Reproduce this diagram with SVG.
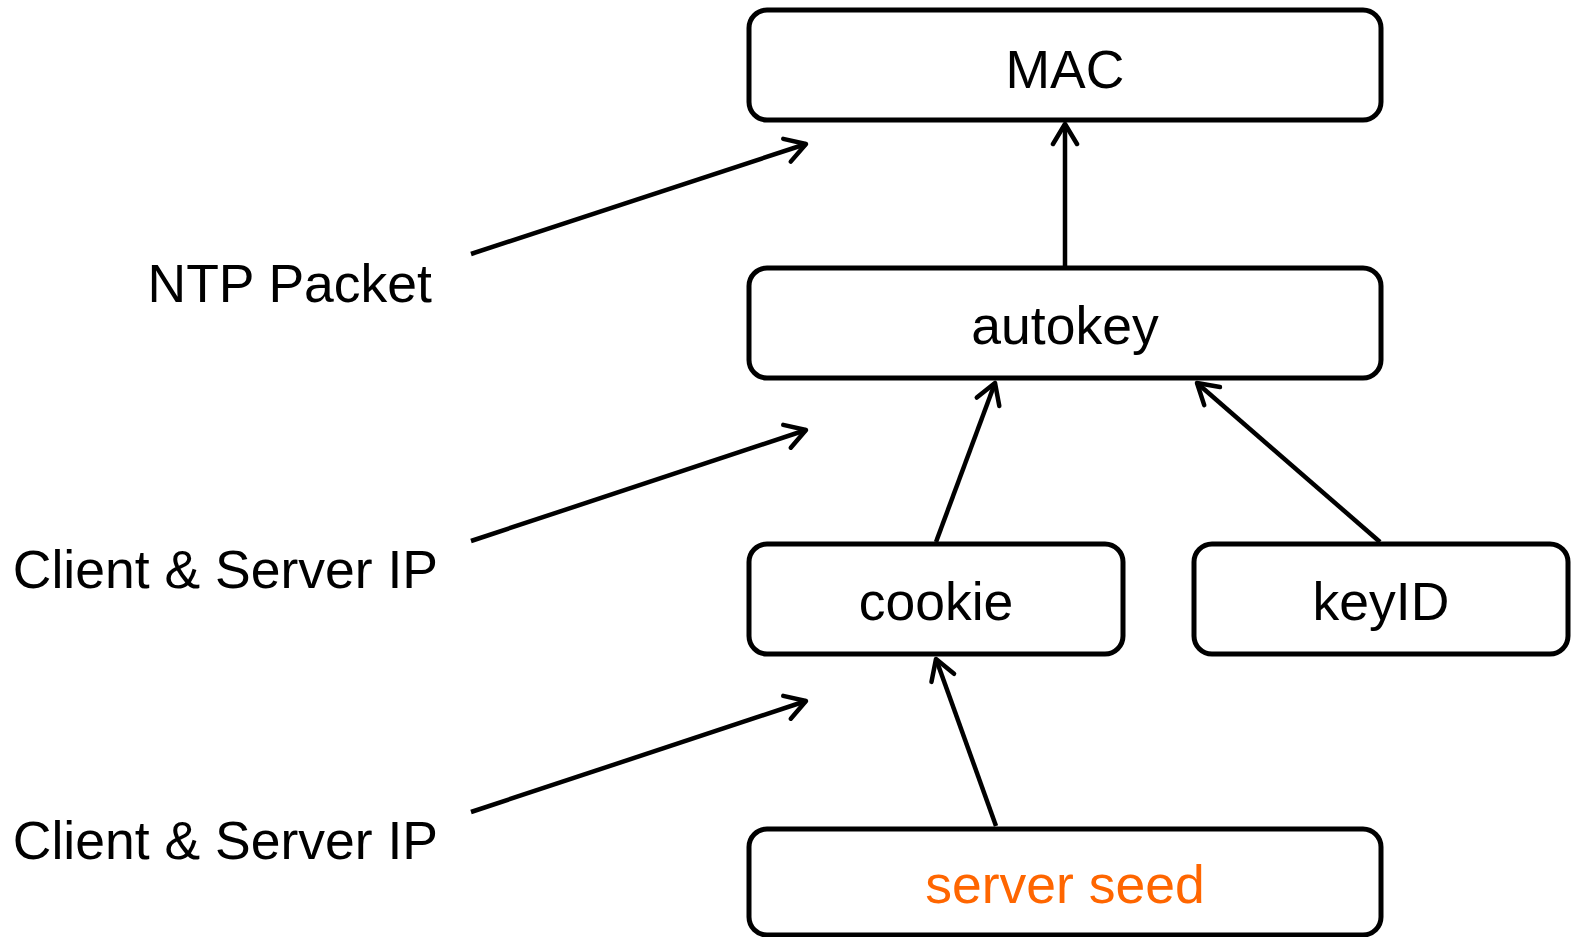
<svg xmlns="http://www.w3.org/2000/svg" width="1574" height="937" viewBox="0 0 1574 937">
<style>
.box{fill:#fff;stroke:#000;stroke-width:5}
.t{font-family:"Liberation Sans",Arial,sans-serif;font-size:53.5px;fill:#000}
.c{text-anchor:middle}
.r{text-anchor:end}
.e{fill:none;stroke:#000;stroke-width:4.5;marker-end:url(#ah)}
</style>
<defs>
<marker id="ah" viewBox="0 0 28 30" refX="24" refY="15" markerWidth="28" markerHeight="30" markerUnits="userSpaceOnUse" orient="auto">
<path d="M4,3 L24,15 L4,27" fill="none" stroke="#000" stroke-width="4.5" stroke-linecap="round" stroke-linejoin="round"/>
</marker>
</defs>
<rect width="1574" height="937" fill="#fff"/>
<g id="connectors">
<line class="e" x1="1065" y1="266" x2="1065" y2="124"/>
<line class="e" x1="936" y1="542" x2="995" y2="383"/>
<line class="e" x1="1380" y1="542" x2="1197" y2="383"/>
<line class="e" x1="996" y1="826" x2="936" y2="659"/>
<line class="e" x1="471" y1="254" x2="806" y2="144"/>
<line class="e" x1="471" y1="541" x2="806" y2="430"/>
<line class="e" x1="471" y1="812" x2="806" y2="701"/>
</g>
<g id="mac"><rect class="box" x="749" y="10" width="632" height="110" rx="18"/><text class="t c" x="1065" y="88">MAC</text></g>
<g id="autokey"><rect class="box" x="749" y="268" width="632" height="110" rx="18"/><text class="t c" x="1065" y="344">autokey</text></g>
<g id="cookie"><rect class="box" x="749" y="544" width="374" height="110" rx="18"/><text class="t c" x="936" y="620">cookie</text></g>
<g id="keyid"><rect class="box" x="1194" y="544" width="374" height="110" rx="18"/><text class="t c" x="1381" y="620">keyID</text></g>
<g id="seed"><rect class="box" x="749" y="829" width="632" height="106" rx="18"/><text class="t c" x="1065" y="903" style="fill:#ff6600">server seed</text></g>
<g id="labels">
<text class="t r" x="432" y="302">NTP Packet</text>
<text class="t r" x="438" y="588">Client &amp; Server IP</text>
<text class="t r" x="438" y="859">Client &amp; Server IP</text>
</g>
</svg>
